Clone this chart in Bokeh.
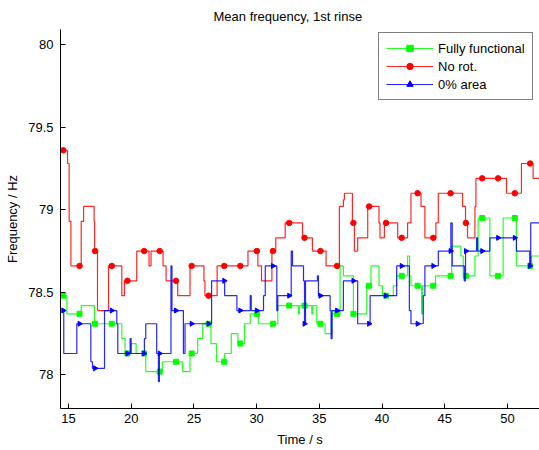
import numpy as np
from bokeh.plotting import figure
from bokeh.models import Range1d, FixedTicker, CustomJSTickFormatter, Legend, LegendItem
from bokeh.embed import file_html
from bokeh.resources import INLINE

# ---- data (stairs: value holds from t until next t) ----
green_t = [14.52, 14.87, 16.01, 17.07, 19.25, 19.51, 19.99, 20.39, 21.16, 22.48,
           24.10, 24.69, 25.30, 25.70, 26.36, 26.80, 27.45, 27.98, 28.51, 29.04,
           29.49, 30.15, 31.69, 33.34, 33.42, 34.40, 34.48, 34.80, 35.46, 35.99,
           36.66, 36.92, 37.72, 38.78, 39.12, 39.76, 40.03, 40.90, 41.17, 42.04,
           42.20, 42.31, 43.16, 43.24, 44.27, 45.55, 46.29, 46.48, 47.41, 47.67,
           48.60, 49.66, 50.72, 51.92, 52.56]
green_v = [78.48, 78.37, 78.42, 78.31, 78.22, 78.13, 78.19, 78.13, 78.02, 78.08,
           78.02, 78.13, 78.22, 78.31, 78.19, 78.08, 78.13, 78.25, 78.19, 78.31,
           78.37, 78.31, 78.42, 78.37, 78.42, 78.37, 78.42, 78.31, 78.25, 78.37,
           78.66, 78.60, 78.37, 78.54, 78.66, 78.54, 78.48, 78.54, 78.60, 78.72,
           78.60, 78.54, 78.37, 78.54, 78.60, 78.78, 78.72, 78.60, 78.72, 78.95,
           78.60, 78.95, 78.66, 78.72, 78.72]

red_t = [14.58, 14.92, 15.05, 15.19, 16.01, 16.20, 17.04, 17.08, 17.31, 18.19,
         19.25, 19.46, 20.44, 21.42, 21.58, 22.54, 22.78, 23.71, 24.69, 25.80,
         25.88, 26.85, 29.31, 30.10, 30.39, 31.22, 31.53, 32.28, 33.66, 34.45,
         35.54, 36.60, 36.92, 37.00, 37.64, 37.80, 38.06, 38.86, 39.76, 39.84,
         40.19, 41.25, 42.04, 42.31, 43.11, 43.42, 44.30, 44.49, 46.42, 46.66,
         46.82, 47.41, 47.49, 49.93, 51.12, 52.05, 52.56]
red_v = [79.36, 79.28, 78.93, 78.66, 78.93, 79.02, 78.93, 78.75, 78.39, 78.66,
         78.48, 78.57, 78.75, 78.66, 78.75, 78.66, 78.57, 78.48, 78.66, 78.57,
         78.48, 78.66, 78.75, 78.66, 78.57, 78.75, 78.83, 78.92, 78.83, 78.75,
         78.66, 79.02, 79.06, 79.10, 78.92, 78.75, 78.83, 79.02, 78.92, 78.83,
         78.92, 78.83, 78.92, 79.10, 79.02, 78.83, 78.92, 79.10, 79.02, 78.92,
         78.83, 79.02, 79.19, 79.10, 79.28, 79.19, 79.19]

blue_t = [14.55, 14.62, 15.66, 16.78, 16.91, 17.87, 18.85, 18.93, 19.91, 19.99,
          21.05, 21.16, 22.03, 22.17, 22.25, 23.17, 23.25, 24.16, 24.29, 26.41,
          27.45, 28.43, 29.49, 29.57, 30.55, 30.69, 31.61, 31.69, 32.76, 32.86,
          33.74, 33.82, 33.90, 34.85, 34.93, 35.86, 35.94, 36.02, 36.92, 38.06,
          39.05, 41.17, 42.18, 42.31, 43.29, 43.42, 44.49, 45.49, 45.60, 46.56,
          46.66, 47.54, 47.62, 48.60, 50.72, 51.78, 51.86, 52.56]
blue_v = [78.39, 78.13, 78.31, 78.08, 78.04, 78.39, 78.31, 78.13, 78.22, 78.13,
          78.22, 78.31, 78.13, 77.96, 78.13, 78.66, 78.39, 78.13, 78.31, 78.57,
          78.48, 78.39, 78.48, 78.39, 78.48, 78.66, 78.39, 78.48, 78.75, 78.66,
          78.57, 78.31, 78.57, 78.60, 78.48, 78.39, 78.22, 78.39, 78.57, 78.31,
          78.48, 78.66, 78.39, 78.31, 78.48, 78.66, 78.75, 78.92, 78.66, 78.57,
          78.75, 78.83, 78.75, 78.83, 78.75, 78.66, 78.92, 78.92]

marker_t = [14.58, 15.88, 17.12, 18.45, 19.70, 21.03, 22.27, 23.57, 24.82, 26.17,
            27.42, 28.70, 30.02, 31.30, 32.60, 33.82, 35.09, 36.42, 37.72, 38.97,
            40.32, 41.57, 42.84, 44.09, 45.47, 46.69, 47.99, 49.26, 50.59, 51.81]

labels = ["Fully functional", "No rot.", "0% area"]
x_ticks = [15, 20, 25, 30, 35, 40, 45, 50]
y_ticks = [78, 78.5, 79, 79.5, 80]


def at(ts, vs, mt):
    idx = np.searchsorted(np.array(ts), np.array(mt), side="right") - 1
    idx = np.clip(idx, 0, len(vs) - 1)
    return [vs[i] for i in idx]


FONT = "Liberation Sans"

p = figure(width=539, height=450, output_backend="svg", toolbar_location=None,
           x_range=Range1d(14.36, 52.56), y_range=Range1d(77.797, 80.091),
           min_border_left=60, min_border_right=0, min_border_top=29,
           min_border_bottom=42)
p.background_fill_color = "white"
p.border_fill_color = "white"
p.outline_line_color = None
p.grid.visible = False

p.title.text = "Mean frequency, 1st rinse"
p.title.align = "left"
p.title.offset = 153
p.title.text_font = FONT
p.title.text_font_size = "13px"
p.title.text_font_style = "normal"
p.title.text_color = "black"
p.title.standoff = 11

for ax in (p.xaxis[0], p.yaxis[0]):
    ax.axis_line_color = "black"
    ax.major_tick_line_color = "black"
    ax.major_tick_in = 5
    ax.major_tick_out = 0
    ax.minor_tick_line_color = None
    ax.major_label_text_font = FONT
    ax.major_label_text_font_size = "13px"
    ax.major_label_text_color = "black"
    ax.axis_label_text_font = FONT
    ax.axis_label_text_font_size = "13px"
    ax.axis_label_text_font_style = "normal"
    ax.axis_label_text_color = "black"

p.xaxis.ticker = FixedTicker(ticks=x_ticks)
p.yaxis.ticker = FixedTicker(ticks=y_ticks)
p.yaxis.formatter = CustomJSTickFormatter(code="return tick.toString();")
p.xaxis.axis_label = "Time / s"
p.yaxis.axis_label = "Frequency / Hz"
p.xaxis.major_label_standoff = 5
p.yaxis.major_label_standoff = 7
p.xaxis.axis_label_standoff = 6
p.yaxis.axis_label_standoff = 5

items = []
specs = [
    (green_t, green_v, "#00ff00", "square", 5, 0.0),
    (red_t, red_v, "#ff0000", "circle", 5.5, 0.0),
    (blue_t, blue_v, "#0000ff", "triangle", 5, -np.pi / 2),
]
for (ts, vs, col, mk, sz, ang), lab in zip(specs, labels):
    ln = p.step(ts, vs, mode="after", line_color=col, line_width=1.2, line_alpha=0.85)
    mv = at(ts, vs, marker_t)
    sc = p.scatter(marker_t, mv, marker=mk, size=sz, angle=ang,
                   fill_color=col, line_color=col)
    items.append(LegendItem(label=lab, renderers=[ln, sc]))

legend = Legend(items=items, location=(318, 308))
legend.margin = 0
legend.padding = 7
legend.spacing = 2
legend.glyph_width = 47
legend.glyph_height = 16
legend.label_height = 16
legend.label_standoff = 5
legend.label_text_font = FONT
legend.label_text_font_size = "13px"
legend.label_text_color = "black"
legend.border_line_color = "black"
legend.border_line_width = 1
legend.background_fill_color = "white"
legend.background_fill_alpha = 1.0
p.add_layout(legend, "center")

open("out.html", "w").write(file_html(p, INLINE))
